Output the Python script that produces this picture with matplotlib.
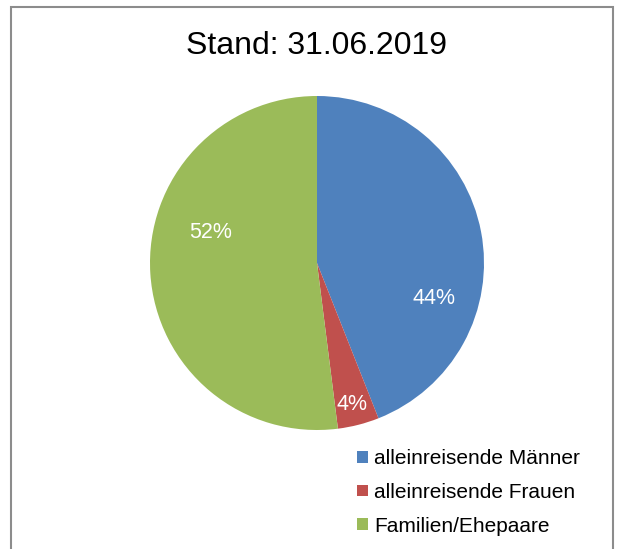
import matplotlib.pyplot as plt
from matplotlib.patches import Rectangle, Patch

plt.rcParams['font.family'] = ['Liberation Sans', 'DejaVu Sans']

# Data
categories = ['alleinreisende Männer', 'alleinreisende Frauen', 'Familien/Ehepaare']
shares = [44, 4, 52]
colors = ['#4F81BD', '#C0504D', '#9BBB59']
title = 'Stand: 31.06.2019'

W, H = 622, 549
fig = plt.figure(figsize=(W / 100, H / 100), dpi=100)

# outer chart border
fig.patches.append(Rectangle((11 / W, -0.05), 602 / W, 1.05 - 7 / H,
                             transform=fig.transFigure, fill=False,
                             edgecolor='#8c8c8c', linewidth=1.5))

# pie area: center (317, 263), radius 167 px
cx, cy, r = 317, 263, 167
ax = fig.add_axes([(cx - r) / W, (H - cy - r) / H, 2 * r / W, 2 * r / H])
wedges, texts, autotexts = ax.pie(shares, colors=colors, startangle=90,
                                  counterclock=False, radius=1,
                                  autopct='%1.0f%%', pctdistance=0.7,
                                  textprops=dict(color='white', fontsize=15.5))
ax.set_xlim(-1, 1)
ax.set_ylim(-1, 1)
ax.set_aspect('equal')

# label placement as in the original (best fit)
label_pos = [(0.70, -0.21), (0.21, -0.85), (-0.64, 0.18)]
for t, p in zip(autotexts, label_pos):
    t.set_position(p)

fig.text(317 / W, 1 - 46 / H, title, ha='center', va='center', fontsize=23)

handles = [Patch(facecolor=c, edgecolor='none') for c in colors]
fig.legend(handles, categories, loc='upper left',
           bbox_to_anchor=(349 / W, 1 - 441 / H), frameon=False,
           fontsize=15, handlelength=0.5, handleheight=0.5,
           handletextpad=0.3, labelspacing=0.7, borderaxespad=0)

fig.savefig('out.png', dpi=100)
